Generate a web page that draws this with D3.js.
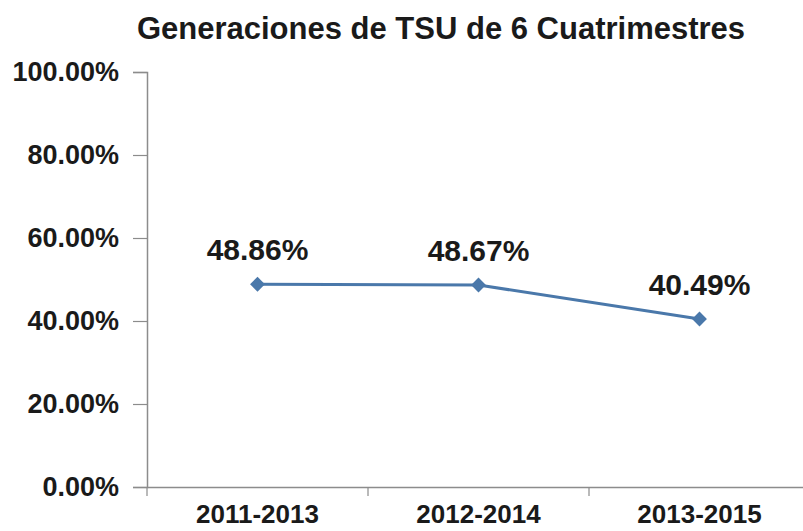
<!DOCTYPE html>
<html>
<head>
<meta charset="utf-8">
<script src="https://cdn.jsdelivr.net/npm/d3@7"></script>
<style>
  body { margin: 0; background: #fff; }
  text { font-family: "Liberation Sans", Arial, sans-serif; font-weight: bold; fill: #1a1a1a; }
</style>
</head>
<body>
<div class="chart-wrapper"></div>
<script>
const title = 'Generaciones de TSU de 6 Cuatrimestres'
const generations = ['2011-2013', '2012-2014', '2013-2015']
const rates = [48.86, 48.67, 40.49]
const yTicks = [0, 20, 40, 60, 80, 100]

let width = 803
let height = 531

let svg = d3.select('.chart-wrapper').append('svg')
.attr('width', width)
.attr('height', height)

// plot area
let left = 147
let bandW = 221

let x = d3.scaleBand()
.domain(generations)
.range([left, left + bandW * generations.length])

let y = d3.scaleLinear()
.domain([0, 100])
.range([487, 72])

svg.append('text')
.attr('x', 441)
.attr('y', 39)
.attr('text-anchor', 'middle')
.style('font-size', '31px')
.text(title)

// y axis
let yAxis = svg.append('g')
.attr('transform', 'translate(' + left + ',0)')
.call(d3.axisLeft(y).tickValues(yTicks).tickSize(14).tickPadding(14).tickFormat(d => d.toFixed(2) + '%'))

yAxis.select('.domain').attr('stroke', '#8c8c8c').attr('stroke-width', 1.5)
yAxis.selectAll('.tick line').attr('stroke', '#8c8c8c').attr('stroke-width', 1.2)
yAxis.selectAll('.tick text')
.style('font-size', '27px')
.style('font-family', '"Liberation Sans", Arial, sans-serif')
.attr('fill', '#1a1a1a')

// x axis
let xAxis = svg.append('g')
.attr('transform', 'translate(0,' + y(0) + ')')
.call(d3.axisBottom(x).tickSize(0).tickPadding(18))

xAxis.select('.domain').attr('stroke', '#8c8c8c').attr('stroke-width', 1.5)
xAxis.selectAll('.tick text')
.style('font-size', '26px')
.style('font-family', '"Liberation Sans", Arial, sans-serif')
.attr('fill', '#1a1a1a')

// band separators
xAxis.selectAll('.sep')
.data(generations)
.enter()
.append('line')
.attr('class', 'sep')
.attr('x1', d => x(d))
.attr('x2', d => x(d))
.attr('y1', 0)
.attr('y2', 9)
.attr('stroke', '#8c8c8c')
.attr('stroke-width', 1.2)

let cx = d => x(d) + x.bandwidth() / 2

// series
let points = generations.map((g, i) => ({gen: g, value: rates[i]}))

let line = d3.line()
.x(d => cx(d.gen))
.y(d => y(d.value))

svg.append('path')
.datum(points)
.attr('d', line)
.attr('fill', 'none')
.attr('stroke', '#4a78aa')
.attr('stroke-width', 3)

svg.selectAll('.marker')
.data(points)
.enter()
.append('path')
.attr('class', 'marker')
.attr('d', d3.symbol().type(d3.symbolDiamond2).size(140))
.attr('transform', d => 'translate(' + cx(d.gen) + ',' + y(d.value) + ')')
.attr('fill', '#4a78aa')

svg.selectAll('.value-label')
.data(points)
.enter()
.append('text')
.attr('class', 'value-label')
.attr('x', d => cx(d.gen))
.attr('y', d => y(d.value) - 24)
.attr('text-anchor', 'middle')
.style('font-size', '30px')
.text(d => d.value.toFixed(2) + '%')
</script>
</body>
</html>
